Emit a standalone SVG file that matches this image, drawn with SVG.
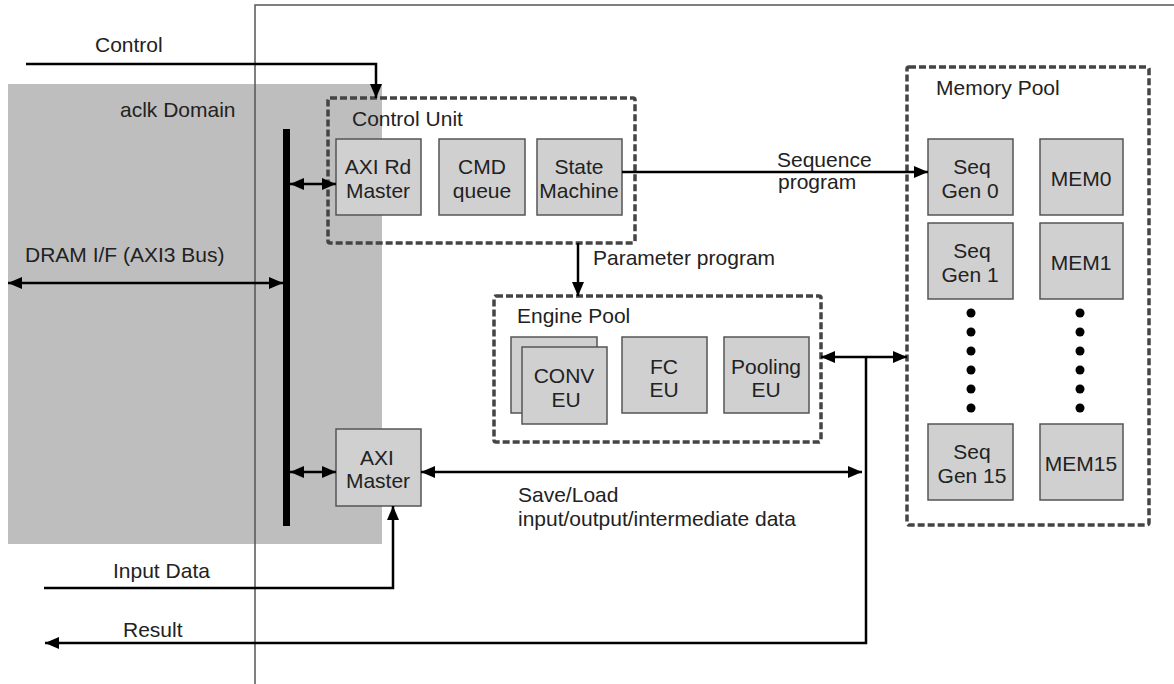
<svg xmlns="http://www.w3.org/2000/svg" width="1174" height="684" viewBox="0 0 1174 684">
<style>
text{font-family:"Liberation Sans",Arial,sans-serif;font-size:21px;fill:#222}
.c{text-anchor:middle}
.box{fill:#d0d0d0;stroke:#555;stroke-width:1.5}
.pool{fill:none;stroke:#444;stroke-width:3.5;stroke-dasharray:7,3}
.ln{fill:none;stroke:#000;stroke-width:2.5}
.frame{fill:none;stroke:#555;stroke-width:1.5}
</style>
<defs>
<marker id="ah" viewBox="0 0 14 12" refX="14" refY="6" markerWidth="14" markerHeight="12" orient="auto-start-reverse" markerUnits="userSpaceOnUse"><path d="M0,0 L14,6 L0,12 z" fill="#000"/></marker>
</defs>
<rect width="1174" height="684" fill="#fff"/>
<g id="aclk-domain">
<rect x="8" y="84" width="374" height="460" fill="#bebebe"/>
<text x="120" y="117">aclk Domain</text>
</g>
<g id="frame">
<path class="frame" d="M255,684 V5 H1174"/>
</g>
<g id="bus">
<rect x="283" y="129" width="7" height="397" fill="#000"/>
</g>
<g id="control-unit">
<rect class="pool" x="328" y="98" width="307" height="145" rx="2"/>
<text x="352" y="126">Control Unit</text>
</g>
<g id="axi-rd-master">
<rect class="box" x="336" y="139" width="85" height="76"/>
<text class="c" x="378" y="174">AXI Rd</text>
<text class="c" x="378" y="198">Master</text>
</g>
<g id="cmd-queue">
<rect class="box" x="439" y="139" width="86" height="76"/>
<text class="c" x="482" y="174">CMD</text>
<text class="c" x="482" y="198">queue</text>
</g>
<g id="state-machine">
<rect class="box" x="537" y="139" width="85" height="76"/>
<text class="c" x="579" y="174">State</text>
<text class="c" x="579" y="198">Machine</text>
</g>
<g id="engine-pool">
<rect class="pool" x="494" y="296" width="327" height="146" rx="2"/>
<text x="517" y="323">Engine Pool</text>
</g>
<g id="conv-eu">
<rect class="box" x="511" y="337" width="86" height="76"/>
<rect class="box" x="522" y="347" width="85" height="77"/>
<text class="c" x="564" y="383">CONV</text>
<text class="c" x="566" y="407">EU</text>
</g>
<g id="fc-eu">
<rect class="box" x="622" y="337" width="85" height="76"/>
<text class="c" x="664" y="374">FC</text>
<text class="c" x="664" y="397">EU</text>
</g>
<g id="pooling-eu">
<rect class="box" x="724" y="337" width="85" height="76"/>
<text class="c" x="766" y="374">Pooling</text>
<text class="c" x="766" y="397">EU</text>
</g>
<g id="memory-pool">
<rect class="pool" x="907" y="67" width="242" height="458" rx="2"/>
<text x="936" y="95">Memory Pool</text>
</g>
<g id="seq-gen-0">
<rect class="box" x="928" y="139" width="85" height="76"/>
<text class="c" x="972" y="174">Seq</text>
<text class="c" x="970" y="198">Gen 0</text>
</g>
<g id="mem0">
<rect class="box" x="1040" y="139" width="83" height="76"/>
<text class="c" x="1081" y="186">MEM0</text>
</g>
<g id="seq-gen-1">
<rect class="box" x="928" y="223" width="85" height="76"/>
<text class="c" x="972" y="258">Seq</text>
<text class="c" x="970" y="282">Gen 1</text>
</g>
<g id="mem1">
<rect class="box" x="1040" y="223" width="83" height="76"/>
<text class="c" x="1081" y="270">MEM1</text>
</g>
<g id="dots" fill="#000">
<circle cx="971" cy="313" r="4.5"/><circle cx="971" cy="332" r="4.5"/><circle cx="971" cy="351" r="4.5"/><circle cx="971" cy="370" r="4.5"/><circle cx="971" cy="389" r="4.5"/><circle cx="971" cy="408" r="4.5"/>
<circle cx="1080" cy="313" r="4.5"/><circle cx="1080" cy="332" r="4.5"/><circle cx="1080" cy="351" r="4.5"/><circle cx="1080" cy="370" r="4.5"/><circle cx="1080" cy="389" r="4.5"/><circle cx="1080" cy="408" r="4.5"/>
</g>
<g id="seq-gen-15">
<rect class="box" x="928" y="424" width="85" height="76"/>
<text class="c" x="972" y="459">Seq</text>
<text class="c" x="972" y="483">Gen 15</text>
</g>
<g id="mem15">
<rect class="box" x="1040" y="424" width="83" height="76"/>
<text class="c" x="1081" y="471">MEM15</text>
</g>
<g id="axi-master">
<rect class="box" x="336" y="429" width="85" height="77"/>
<text class="c" x="377" y="465">AXI</text>
<text class="c" x="378" y="488">Master</text>
</g>
<g id="connectors">
<path class="ln" d="M26,64 H376 V98" marker-end="url(#ah)"/>
<path class="ln" d="M8,283 H283" marker-start="url(#ah)" marker-end="url(#ah)"/>
<path class="ln" d="M290,184 H336" marker-start="url(#ah)" marker-end="url(#ah)"/>
<path class="ln" d="M290,472 H336" marker-start="url(#ah)" marker-end="url(#ah)"/>
<path class="ln" d="M622,172 H928" marker-end="url(#ah)"/>
<path class="ln" d="M578,243 V296" marker-end="url(#ah)"/>
<path class="ln" d="M821,357 H907" marker-start="url(#ah)" marker-end="url(#ah)"/>
<path class="ln" d="M421,472 H862" marker-start="url(#ah)" marker-end="url(#ah)"/>
<path class="ln" d="M866,357 V643 H45" marker-end="url(#ah)"/>
<path class="ln" d="M44,588 H393 V506" marker-end="url(#ah)"/>
</g>
<g id="labels">
<text x="95" y="52">Control</text>
<text x="25" y="262">DRAM I/F (AXI3 Bus)</text>
<text x="777" y="167">Sequence</text>
<text x="778" y="189">program</text>
<text x="593" y="265">Parameter program</text>
<text x="518" y="502">Save/Load</text>
<text x="518" y="526">input/output/intermediate data</text>
<text x="113" y="578">Input Data</text>
<text x="123" y="637">Result</text>
</g>
</svg>
